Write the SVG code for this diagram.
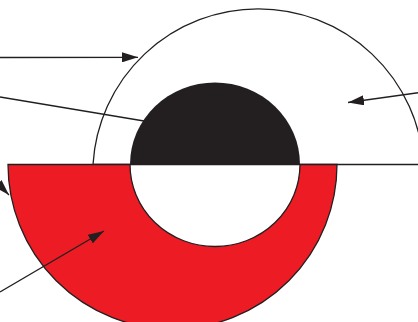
<svg xmlns="http://www.w3.org/2000/svg" width="418" height="322" viewBox="0 0 418 322">
  <style>
    .ln { stroke: #231f20; stroke-width: 1.3; fill: none; }
    .conn { stroke: #231f20; stroke-width: 1.3; fill: none; }
  </style>
  <defs>
    <marker id="arr" markerUnits="userSpaceOnUse" markerWidth="16" markerHeight="10" refX="16" refY="5" orient="auto">
      <path d="M0,0 L16,5 L0,10 z" fill="#231f20"/>
    </marker>
  </defs>
  <rect width="418" height="322" fill="#ffffff"/>
  <g id="outer-arc">
    <path class="ln" d="M93,164.5 A165.6,165.6 0 0 1 423.6,164.5"/>
    <line class="ln" x1="93" y1="164.5" x2="418" y2="164.5"/>
  </g>
  <g id="red-ring">
    <path d="M8,164.5 A164.5,164.5 0 0 0 337,164.5 L300,164.5 A85,82 0 0 1 130,164.5 Z" fill="#ed1c24" stroke="#231f20" stroke-width="1.3"/>
  </g>
  <g id="black-core">
    <path d="M130,164.5 A85,82 0 0 1 300,164.5 Z" fill="#231f20"/>
  </g>
  <g id="connectors">
    <line class="conn" x1="0" y1="57.5" x2="138" y2="57.3" marker-end="url(#arr)"/>
    <line class="conn" x1="0" y1="97" x2="144" y2="121"/>
    <line class="conn" x1="420" y1="92.5" x2="348" y2="102.5" marker-end="url(#arr)"/>
    <line class="conn" x1="-20" y1="165" x2="9" y2="195" marker-end="url(#arr)"/>
    <line class="conn" x1="0" y1="292" x2="104" y2="231" marker-end="url(#arr)"/>
  </g>
</svg>
